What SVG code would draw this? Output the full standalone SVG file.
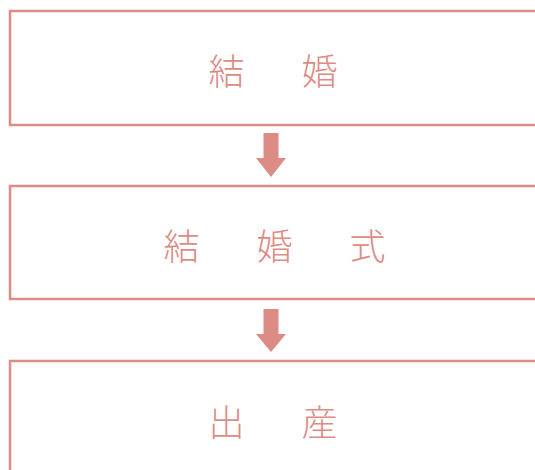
<svg xmlns="http://www.w3.org/2000/svg" width="535" height="470" viewBox="0 0 535 470">
<style>
.box{fill:#ffffff;stroke:#dd8c85;stroke-width:2.5}
.lbl{font-family:"Noto Sans CJK JP","Noto Sans CJK SC",sans-serif;font-size:36px;font-weight:300;fill:#dd8c85;letter-spacing:10.5px}
.arr{fill:#dd8c85}
</style>
<rect width="535" height="470" fill="#ffffff"/>
<g id="node-kekkon">
<rect class="box" x="10" y="11" width="600" height="114"/>
<text class="lbl" x="208.5" y="85">結　婚</text>
</g>
<g id="node-kekkonshiki">
<rect class="box" x="10" y="186" width="600" height="113"/>
<text class="lbl" x="163.5" y="260">結　婚　式</text>
</g>
<g id="node-shussan">
<rect class="box" x="10" y="361" width="600" height="200"/>
<text class="lbl" x="208.5" y="436">出　産</text>
</g>
<g id="connectors">
<polygon class="arr" points="263.5,133 278.5,133 278.5,158 286,158 271,177 256,158 263.5,158"/>
<polygon class="arr" points="263.5,309 278.5,309 278.5,334 286,334 271,352 256,334 263.5,334"/>
</g>
</svg>
